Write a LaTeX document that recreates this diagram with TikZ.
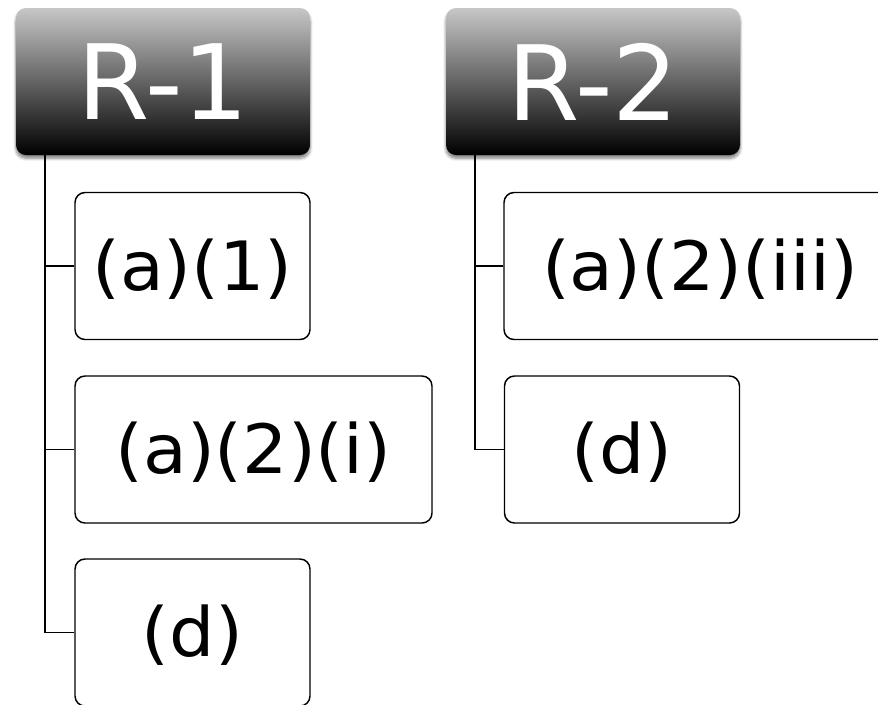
\documentclass[tikz,border=0pt]{standalone}
\usepackage{fontspec}
\setmainfont{DejaVu Sans}
\newfontfamily\itemfont{DejaVu Sans}[FakeStretch=1.05]
\usetikzlibrary{shadows.blur}
\begin{document}
\begin{tikzpicture}[x=0.75pt,y=-0.75pt,
  header/.style={rounded corners=7.5pt, minimum width=220.5pt, minimum height=110.25pt,
    top color=black!22, bottom color=black, draw=none, text=white,
    font=\fontsize{78}{80}\selectfont, inner sep=0pt,
    blur shadow={shadow blur steps=6, shadow xshift=0pt, shadow yshift=-2.5pt, shadow opacity=50}},
  item/.style={draw=black, line width=1.1pt, fill=white, rounded corners=7.5pt,
    minimum height=110.25pt, inner sep=0pt, text height=36pt, text depth=0pt,
    font=\itemfont\fontsize{51}{53}\selectfont},
  link/.style={draw=black, line width=1.1pt}]
\useasboundingbox (0,0) rectangle (878,704);
\clip (0,0) rectangle (878,704);

% first group
\node[header] (r1) at (163,81.5) {R-1};
\node[item, minimum width=176.25pt] (a1) at (192.5,266) {(a)(1)};
\node[item, minimum width=267.75pt] (a2i) at (253.5,449.5) {(a)(2)(i)};
\node[item, minimum width=176.25pt] (d1) at (192.5,632.5) {(d)};
\coordinate (s1) at (45,155);
\draw[link] (s1) |- (d1.west);
\draw[link] (s1 |- a1.west) -- (a1.west);
\draw[link] (s1 |- a2i.west) -- (a2i.west);

% second group
\node[header] (r2) at (593,81.5) {R-2};
\node[item, minimum width=294pt] (a2iii) at (700,266) {(a)(2)(iii)};
\node[item, minimum width=176.25pt] (d2) at (622,449.5) {(d)};
\coordinate (s2) at (475,155);
\draw[link] (s2) |- (d2.west);
\draw[link] (s2 |- a2iii.west) -- (a2iii.west);
\end{tikzpicture}
\end{document}
